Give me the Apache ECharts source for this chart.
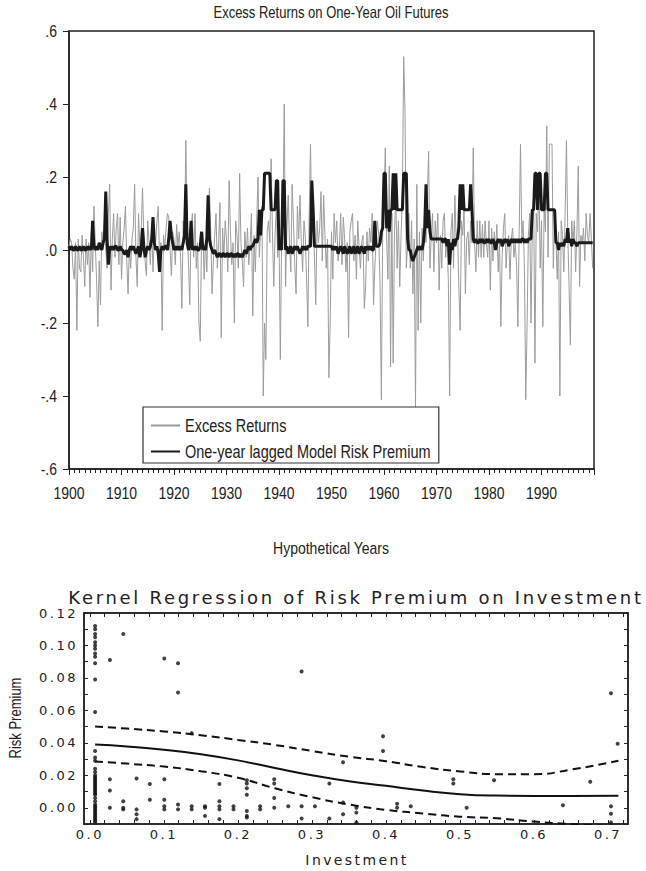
<!DOCTYPE html>
<html>
<head>
<meta charset="utf-8">
<script src="https://cdn.jsdelivr.net/npm/echarts@6/dist/echarts.min.js"></script>
<style>
html,body{margin:0;padding:0;background:#fff;}
#top{position:absolute;left:0;top:0;width:646px;height:565px;}
#bottom{position:absolute;left:0;top:565px;width:646px;height:306px;}
</style>
</head>
<body>
<div id="top"></div>
<div id="bottom"></div>
<script>
// ---------------- Top panel data (quarterly, 1900-1999) ----------------
const startYear = 1900;
const periodsPerYear = 4;
const yearTickLabels = [1900,1910,1920,1930,1940,1950,1960,1970,1980,1990];
const excessReturns = [
 0.01,0.03,0.02,-0.05,  -0.08,0.02,-0.22,0.03,  -0.05,-0.06,0.04,-0.02,  -0.10,0.03,-0.04,0.02,  -0.13,0.05,-0.06,0.12,
 0.02,-0.08,-0.21,-0.03,  -0.15,0.05,0.02,0.08,  0.00,-0.05,0.10,0.18,  -0.11,0.03,0.10,-0.02,  0.06,0.10,-0.04,0.09,
 -0.08,0.02,0.06,0.12,  -0.03,-0.12,0.01,-0.05,  0.03,0.06,0.18,-0.02,  -0.10,0.10,0.00,0.05,  0.17,0.04,-0.03,-0.07,
 0.08,0.02,-0.04,0.06,  -0.06,0.04,0.02,0.08,  0.12,-0.03,0.02,-0.22,  0.04,0.01,0.06,0.10,  0.09,0.00,-0.07,0.05,
 0.03,-0.04,0.07,0.01,  0.05,-0.02,-0.16,0.08,  0.02,0.30,0.05,-0.03,  -0.15,0.06,0.10,-0.02,  0.10,-0.05,0.02,-0.20,
 -0.25,0.04,0.05,-0.08,  0.03,-0.06,0.08,0.17,  0.05,-0.12,-0.03,0.04,  0.10,-0.05,0.02,0.13,  -0.24,0.06,-0.02,0.08,
 0.03,-0.06,0.19,0.05,  -0.04,0.02,-0.20,0.08,  0.04,-0.05,0.21,0.02,  -0.03,-0.10,0.05,-0.02,  0.06,-0.04,0.02,0.10,
 -0.18,0.04,-0.06,0.08,  0.20,-0.02,0.05,0.12,  -0.40,-0.20,-0.30,0.05,  0.08,0.02,0.25,0.05,  -0.10,0.04,0.12,-0.02,
 0.05,-0.30,0.03,0.10,  0.40,-0.10,0.06,0.15,  0.02,-0.06,0.18,0.08,  -0.04,-0.12,0.12,0.03,  0.15,0.02,-0.06,0.08,
 0.04,-0.08,-0.21,0.10,  0.29,0.05,0.12,-0.02,  -0.15,0.08,0.02,0.06,  0.16,-0.03,0.15,0.04,  -0.05,0.03,-0.35,-0.20,
 0.05,-0.08,0.10,0.02,  0.08,-0.03,0.01,0.10,  -0.04,0.09,0.03,-0.06,  0.02,-0.24,0.05,0.08,  0.10,-0.03,0.04,-0.08,
 0.08,0.01,-0.05,0.02,  0.04,-0.16,-0.10,0.05,  -0.03,0.06,0.02,0.10,  -0.15,-0.05,0.03,0.08,  0.04,-0.10,-0.41,0.05,
 0.12,0.28,0.03,-0.08,  0.23,-0.32,0.10,-0.31,  0.05,0.15,-0.05,0.08,  -0.10,0.04,0.15,0.53,  0.38,-0.05,0.02,0.10,
 -0.05,0.08,-0.12,0.03,  -0.43,0.18,-0.22,0.05,  -0.20,0.06,-0.03,0.10,  0.02,0.15,0.27,-0.05,  0.04,0.10,-0.06,0.08,
 0.02,0.10,-0.11,0.04,  -0.05,0.08,0.10,-0.02,  0.03,-0.08,-0.40,0.05,  0.10,-0.05,0.15,0.02,  0.06,-0.10,-0.22,0.08,
 0.04,0.12,-0.12,0.03,  0.05,-0.04,0.08,0.02,  0.28,0.02,-0.06,0.08,  -0.02,0.08,-0.02,0.07,  -0.02,0.08,0.02,-0.02,
 0.08,-0.11,0.06,-0.03,  0.05,0.00,0.07,-0.06,  0.03,-0.21,-0.02,0.06,  0.10,-0.05,0.02,0.04,  -0.08,0.03,0.06,-0.02,
 0.02,-0.04,-0.21,0.05,  0.29,0.03,0.08,-0.05,  -0.41,-0.21,0.04,0.10,  -0.20,0.06,0.15,-0.31,  0.10,0.05,0.20,-0.05,
 0.08,-0.21,0.12,0.05,  0.34,-0.02,0.29,0.29,  0.29,-0.05,0.10,0.03,  -0.08,0.05,-0.40,0.08,  0.04,-0.06,0.10,0.30,
 0.05,-0.10,-0.26,0.08,  0.02,0.08,-0.06,0.05,  0.23,-0.10,0.04,0.02,  0.06,-0.03,0.10,0.04,  0.02,0.10,0.03,-0.05
];
const riskPremium = [
 0.01,0.00,0.01,0.00,  0.00,0.01,0.00,0.00,  0.01,0.00,0.00,0.01,  0.00,0.00,0.01,0.00,  0.01,0.00,0.08,0.01,
 0.00,0.01,0.00,0.02,  0.01,0.00,0.02,0.03,  0.16,0.03,-0.04,0.01,  0.00,0.01,0.00,0.01,  0.01,0.00,0.00,0.01,
 0.00,0.00,-0.01,-0.01,  0.00,-0.02,0.00,0.01,  0.00,0.01,0.00,-0.01,  0.00,0.01,-0.02,0.00,  0.06,0.01,-0.02,0.00,
 0.01,0.00,0.01,0.03,  0.09,0.02,0.00,0.01,  -0.01,-0.06,0.00,0.01,  0.00,0.01,0.01,0.00,  0.03,0.08,0.04,0.02,
 0.00,0.01,0.00,0.01,  0.00,0.01,0.00,0.02,  0.04,0.18,0.02,0.00,  0.01,0.08,0.00,0.01,  0.00,0.01,0.00,0.00,
 0.01,0.05,0.00,0.01,  0.00,0.03,0.15,0.03,  0.01,0.00,-0.01,0.00,  -0.01,-0.02,-0.01,-0.01,  -0.02,-0.01,-0.01,-0.02,
 -0.01,-0.01,-0.02,-0.01,  -0.01,-0.02,-0.01,-0.02,  -0.01,-0.01,-0.02,-0.01,  -0.02,-0.01,0.00,-0.01,  0.00,0.01,0.00,0.01,
 0.01,0.02,0.03,0.02,  0.03,0.11,0.04,0.11,  0.11,0.21,0.21,0.21,  0.21,0.21,0.11,0.11,  0.11,0.11,0.19,0.19,
 0.00,0.01,0.00,0.19,  0.19,0.00,0.01,-0.01,  0.00,0.01,-0.01,0.00,  0.01,0.00,0.01,0.00,  -0.01,0.00,0.01,0.00,
 0.01,0.00,0.01,0.01,  0.01,0.19,0.11,0.01,  0.01,0.01,0.01,0.01,  0.01,0.01,0.01,0.01,  0.01,0.01,0.01,0.01,
 0.01,0.00,0.01,0.00,  0.01,-0.01,0.00,0.01,  0.00,-0.01,0.01,0.00,  -0.01,0.00,0.01,-0.01,  0.00,0.01,-0.01,0.00,
 0.01,-0.01,0.00,0.01,  0.00,-0.01,0.01,0.00,  0.01,0.00,0.01,0.00,  0.00,0.08,0.01,0.01,  0.01,0.02,0.05,0.06,
 0.21,0.21,0.06,0.11,  0.05,0.11,0.11,0.21,  0.11,0.21,0.11,0.11,  0.11,0.11,0.11,0.21,  0.21,0.21,0.03,0.00,
 0.00,-0.02,-0.03,-0.02,  -0.01,0.00,0.01,0.00,  0.01,0.00,0.02,0.06,  0.18,0.06,0.11,0.05,  0.03,0.03,0.03,0.03,
 0.03,0.03,0.03,0.03,  0.03,0.02,0.03,0.03,  0.01,0.03,-0.04,0.02,  0.00,0.03,0.01,0.03,  0.03,0.06,0.18,0.11,
 0.18,0.11,0.11,0.11,  0.11,0.11,0.18,0.11,  0.03,0.02,0.03,0.02,  0.02,0.03,0.02,0.03,  0.02,0.02,0.03,0.02,
 0.03,0.02,0.02,0.03,  0.02,0.00,0.02,0.03,  0.02,0.03,0.01,0.02,  0.03,0.02,0.03,0.01,  0.02,0.03,0.02,0.03,
 0.02,0.03,0.02,0.03,  0.02,0.03,0.03,0.02,  0.03,0.02,0.03,0.03,  0.03,0.11,0.11,0.21,  0.21,0.11,0.21,0.21,
 0.11,0.11,0.11,0.21,  0.21,0.11,0.11,0.11,  0.11,0.11,0.11,0.02,  0.02,0.00,0.02,0.01,  0.02,0.01,0.03,0.02,
 0.06,0.02,0.03,0.01,  0.03,0.02,0.02,0.01,  0.02,0.02,0.02,0.02,  0.02,0.02,0.02,0.02,  0.02,0.02,0.02,0.02
];

// ---------------- Bottom panel data ----------------
const investment = [
 0.007,0.007,0.007,0.007,0.007,0.007,0.007,0.007,0.007,0.007,0.007,0.007,0.007,0.007,0.007,0.007,0.007,0.007,0.007,0.007,0.007,0.007,
 0.007,0.007,0.007,0.007,0.007,0.007,0.007,0.007,0.007,0.007,0.007,0.007,0.007,0.007,0.007,0.007,0.007,0.007,0.007,0.007,0.007,0.007,
 0.027,0.027,0.027,0.027,
 0.045,0.045,0.045,0.045,
 0.063,0.063,0.063,0.063,
 0.081,0.081,
 0.1005,0.1005,0.1005,0.1005,0.1005,
 0.119,0.119,0.119,0.119,
 0.1375,0.1375,0.1375,
 0.1555,0.1555,0.1555,
 0.175,0.175,0.175,0.175,0.175,
 0.194,0.194,
 0.212,0.212,0.212,0.212,0.212,0.212,0.212,
 0.230,0.230,
 0.249,0.249,0.249,0.249,
 0.268,
 0.286,0.286,0.286,
 0.304,
 0.3235,0.3235,
 0.342,0.342,0.342,
 0.360,0.360,0.360,
 0.396,0.396,
 0.415,0.415,
 0.4335,
 0.491,0.491,
 0.509,
 0.546,
 0.639,
 0.676,
 0.704,0.704,0.704,0.704,
 0.713
];
const premium = [
 0.112,0.110,0.107,0.105,0.102,0.100,0.098,0.095,0.093,0.089,0.079,0.059,0.035,0.031,0.029,0.024,0.022,0.020,0.019,0.018,0.017,0.016,
 0.015,0.014,0.013,0.012,0.011,0.010,0.009,0.008,0.006,0.004,0.002,0.001,0.000,-0.001,-0.002,-0.003,-0.004,-0.005,-0.006,-0.007,-0.008,-0.009,
 0.091,0.0176,0.0107,0.000,
 0.107,0.004,0.000,-0.001,
 0.018,-0.001,-0.004,-0.007,
 0.0146,0.005,
 0.092,0.0176,0.005,0.001,-0.001,
 0.089,0.071,0.002,-0.001,
 0.046,0.001,-0.001,
 0.001,0.000,-0.005,
 0.0146,0.004,0.001,-0.001,-0.007,
 0.001,-0.001,
 0.017,0.015,0.012,0.008,-0.002,-0.005,-0.006,
 0.001,-0.001,
 0.0176,0.015,0.006,0.000,
 0.001,
 0.084,0.001,-0.0066,
 0.001,
 0.015,-0.0066,
 0.028,0.0033,-0.004,
 0.000,-0.003,-0.009,
 0.044,0.035,
 0.0025,0.000,
 0.001,
 0.0176,0.015,
 0.000,
 0.017,
 0.0016,
 0.016,
 0.0706,0.001,-0.0037,-0.009,
 0.0394
];
const curveX     = [0.007, 0.05,   0.10,   0.15,   0.20,   0.25,   0.30,   0.35,   0.40,    0.45,    0.50,    0.55,    0.60,    0.65,    0.714];
const fitY       = [0.0390,0.0378, 0.0358, 0.0330, 0.0292, 0.0245, 0.0200, 0.0163, 0.0135,  0.0106,  0.0084,  0.0075,  0.0073,  0.0073,  0.0074];
const upperY     = [0.0500,0.0488, 0.0470, 0.0447, 0.0418, 0.0387, 0.0350, 0.0315, 0.0287,  0.0251,  0.0224,  0.0207,  0.0207,  0.0235,  0.0290];
const lowerY     = [0.0285,0.0272, 0.0254, 0.0225, 0.0185, 0.0120, 0.0065, 0.0020, -0.0013, -0.0035, -0.0055, -0.0065, -0.0085, -0.0100, -0.0115];
const invTickLabels = [0, 0.1, 0.2, 0.3, 0.4, 0.5, 0.6, 0.7];
const premTickLabels = [0, 0.02, 0.04, 0.06, 0.08, 0.10, 0.12];

// ---------------- Fonts ----------------
// Helvetica-Narrow look: Liberation Sans drawn smaller, then stretched vertically.
const SANS = "'Liberation Sans',Arial,sans-serif";
const WIDE = "'DejaVu Sans',sans-serif";
const INK = '#222';
const STRETCH_Y = 1.22;

// ---------------- Top chart ----------------
const topChart = echarts.init(document.getElementById('top'), null, {renderer: 'svg'});
topChart.setOption({
  animation: false,
  backgroundColor: '#fff',
  grid: {left: 69, right: 52, top: 31, bottom: 96, show: true, borderColor: INK, borderWidth: 1.5, backgroundColor: 'transparent'},
  xAxis: {
    type: 'value', min: 1900, max: 2000, interval: 10,
    axisLine: {show: true, onZero: false, lineStyle: {color: INK, width: 1.5}},
    axisTick: {show: true, inside: false, length: 6, lineStyle: {color: INK, width: 1}},
    minorTick: {show: true, splitNumber: 10, length: 4, lineStyle: {color: INK, width: 1}},
    axisLabel: {margin: 17, fontFamily: SANS, fontSize: 14, color: INK,
      formatter: v => (yearTickLabels.indexOf(v) >= 0 ? String(v) : '')},
    splitLine: {show: false}, minorSplitLine: {show: false}
  },
  yAxis: {
    type: 'value', min: -0.6, max: 0.6, interval: 0.2,
    axisLine: {show: true, onZero: false, lineStyle: {color: INK, width: 1.5}},
    axisTick: {show: true, inside: false, length: 6, lineStyle: {color: INK, width: 1}},
    axisLabel: {margin: 12, fontFamily: SANS, fontSize: 14, color: INK,
      formatter: v => { const s = Math.abs(v).toFixed(1).replace(/^0/, ''); return (v < -1e-9 ? '-' : '') + s; }},
    splitLine: {show: false}
  },
  legend: {
    orient: 'vertical', left: 143, top: 407,
    itemWidth: 29, itemHeight: 14, itemGap: 11,
    padding: [11, 8, 4, 7],
    borderColor: '#333', borderWidth: 1.2, backgroundColor: '#fff',
    itemStyle: {opacity: 0},
    textStyle: {fontFamily: SANS, fontSize: 14.5, color: INK},
    data: ['Excess Returns', 'One-year lagged Model Risk Premium']
  },
  series: [
    {name: 'Excess Returns', type: 'line', symbol: 'none', showSymbol: false,
     data: excessReturns.map((v, i) => [startYear + i / periodsPerYear, v]),
     lineStyle: {color: '#9c9c9c', width: 1}, itemStyle: {color: '#9c9c9c'}, z: 2},
    {name: 'One-year lagged Model Risk Premium', type: 'line', symbol: 'none', showSymbol: false,
     data: riskPremium.map((v, i) => [startYear + i / periodsPerYear, v]),
     lineStyle: {color: '#1a1a1a', width: 3}, itemStyle: {color: '#1a1a1a'}, z: 3}
  ],
  graphic: [
    {type: 'text', x: 331, y: 13, style: {text: 'Excess Returns on One-Year Oil Futures', align: 'center', verticalAlign: 'middle', fontFamily: SANS, fontSize: 13, fill: INK}},
    {type: 'text', x: 331, y: 548, style: {text: 'Hypothetical Years', align: 'center', verticalAlign: 'middle', fontFamily: SANS, fontSize: 14, fill: INK}}
  ]
});

// ---------------- Bottom chart ----------------
const xMin = -0.008, xMax = 0.727, yMin = -0.01, yMax = 0.12;
const gridTicksY = Array.from({length: 14}, (_, i) => +(yMin + 0.01 * i).toFixed(2));
const gridTicksX = Array.from({length: 37}, (_, i) => +(0.02 * i).toFixed(2));

const bottomChart = echarts.init(document.getElementById('bottom'), null, {renderer: 'svg'});
bottomChart.setOption({
  animation: false,
  backgroundColor: '#fff',
  grid: {left: 84, right: 18, top: 48, bottom: 47, show: true, borderColor: INK, borderWidth: 1.5, backgroundColor: 'transparent'},
  xAxis: [
    {type: 'value', min: xMin, max: xMax, position: 'bottom',
     axisLine: {show: true, onZero: false, lineStyle: {color: INK, width: 1.5}},
     axisTick: {show: true, inside: true, length: 4, customValues: gridTicksX, lineStyle: {color: INK}},
     axisLabel: {margin: 4, fontFamily: WIDE, fontSize: 13, color: INK, customValues: invTickLabels, formatter: v => v.toFixed(1)},
     splitLine: {show: false}},
    {type: 'value', min: xMin, max: xMax, position: 'top',
     axisLine: {show: true, onZero: false, lineStyle: {color: INK, width: 1.5}},
     axisTick: {show: true, inside: true, length: 4, customValues: gridTicksX, lineStyle: {color: INK}},
     axisLabel: {show: false}, splitLine: {show: false}}
  ],
  yAxis: [
    {type: 'value', min: yMin, max: yMax, position: 'left',
     axisLine: {show: true, onZero: false, lineStyle: {color: INK, width: 1.5}},
     axisTick: {show: true, inside: true, length: 4, customValues: gridTicksY, lineStyle: {color: INK}},
     axisLabel: {margin: 6, fontFamily: WIDE, fontSize: 13, color: INK, customValues: premTickLabels, formatter: v => v.toFixed(2)},
     splitLine: {show: false}},
    {type: 'value', min: yMin, max: yMax, position: 'right',
     axisLine: {show: true, onZero: false, lineStyle: {color: INK, width: 1.5}},
     axisTick: {show: true, inside: true, length: 4, customValues: gridTicksY, lineStyle: {color: INK}},
     axisLabel: {show: false}, splitLine: {show: false}}
  ],
  series: [
    {type: 'scatter', xAxisIndex: 0, yAxisIndex: 0, symbol: 'circle', symbolSize: 4,
     data: investment.map((x, i) => [x, premium[i]]), itemStyle: {color: '#111'}, z: 3},
    {type: 'line', xAxisIndex: 0, yAxisIndex: 0, symbol: 'none', smooth: true, clip: true,
     data: curveX.map((x, i) => [x, fitY[i]]), lineStyle: {color: '#111', width: 2}, z: 2},
    {type: 'line', xAxisIndex: 0, yAxisIndex: 0, symbol: 'none', smooth: true, clip: true,
     data: curveX.map((x, i) => [x, upperY[i]]), lineStyle: {color: '#111', width: 2, type: [8, 5]}, z: 2},
    {type: 'line', xAxisIndex: 0, yAxisIndex: 0, symbol: 'none', smooth: true, clip: true,
     data: curveX.map((x, i) => [x, lowerY[i]]), lineStyle: {color: '#111', width: 2, type: [8, 5]}, z: 2}
  ],
  graphic: [
    {type: 'text', x: 356, y: 32, style: {text: 'Kernel Regression of Risk Premium on Investment', align: 'center', verticalAlign: 'middle', fontFamily: WIDE, fontSize: 18, fill: INK}},
    {type: 'text', x: 357, y: 295, style: {text: 'Investment', align: 'center', verticalAlign: 'middle', fontFamily: WIDE, fontSize: 14, fill: INK}},
    {type: 'text', x: 16, y: 153, rotation: Math.PI / 2, style: {text: 'Risk Premium', align: 'center', verticalAlign: 'middle', fontFamily: SANS, fontSize: 13, fill: INK}}
  ]
});

// Narrow lettering: stretch glyphs vertically about their anchor.
function stretchText(t) {
  if (t.getAttribute('data-st')) return;
  const y = parseFloat(t.getAttribute('y')) || 0;
  const tr = t.getAttribute('transform') || '';
  t.setAttribute('transform', tr + ' translate(0 ' + y + ') scale(1 ' + STRETCH_Y + ') translate(0 ' + (-y) + ')');
  t.setAttribute('data-st', '1');
}
function styleTopText() {
  document.querySelectorAll('#top svg text').forEach(stretchText);
}
// Wide lettering of the lower panel (letter-spacing on the SVG text)
function styleBottomText() {
  document.querySelectorAll('#bottom svg text').forEach(t => {
    const s = t.textContent;
    if (s === 'Risk Premium') { stretchText(t); return; }
    let ls = '2.5px';
    if (s.indexOf('Kernel') === 0) ls = '2.7px';
    else if (s === 'Investment') ls = '2.4px';
    t.style.letterSpacing = ls;
  });
}
topChart.on('finished', styleTopText);
bottomChart.on('finished', styleBottomText);
styleTopText(); styleBottomText();
setTimeout(() => { styleTopText(); styleBottomText(); }, 30);
</script>
</body>
</html>
